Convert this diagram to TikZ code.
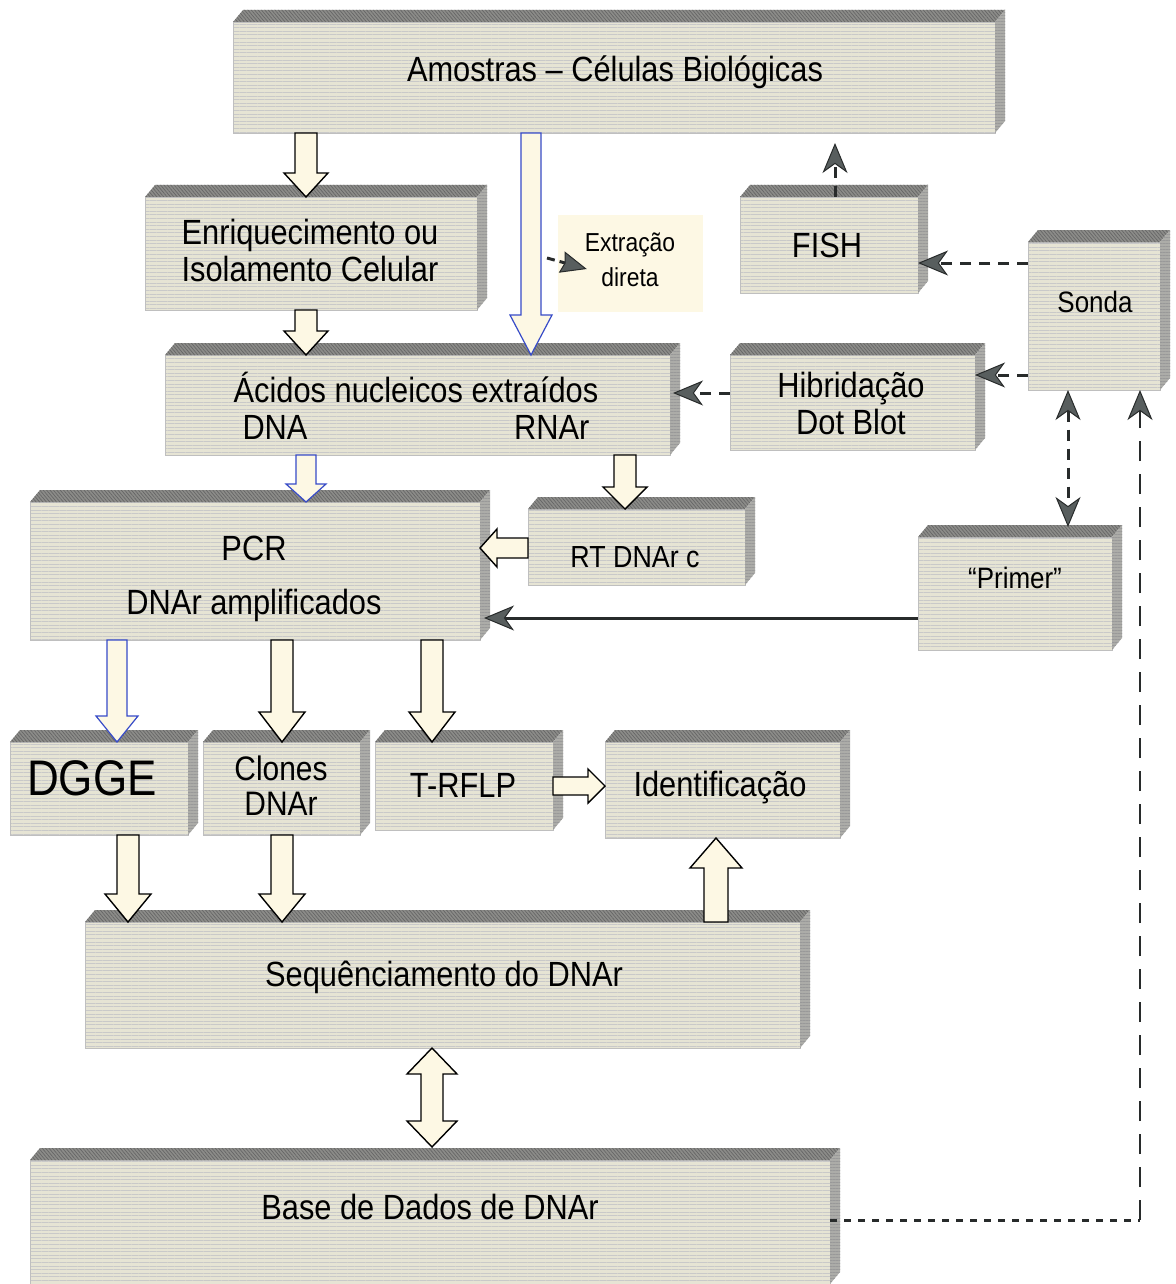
\documentclass[tikz,border=0pt]{standalone}
\usepackage{fontspec}
\setmainfont{Liberation Sans}[FakeStretch=0.88]
\usetikzlibrary{calc,arrows.meta,patterns.meta}

\definecolor{facefront}{RGB}{230,228,212}
\definecolor{facetop}{RGB}{140,140,137}
\definecolor{faceside}{RGB}{172,172,168}
\definecolor{cream}{RGB}{253,248,228}
\definecolor{arrowblue}{RGB}{55,75,200}
\definecolor{dashgray}{RGB}{40,43,43}
\definecolor{tipgray}{RGB}{88,94,94}

\tikzset{
  slab/.style={draw=gray!50, line width=0.5pt, outer sep=0pt, inner sep=0pt,
    preaction={fill=facefront},
    pattern={Lines[angle=0,distance=3.6pt,line width=0.6pt]}, pattern color=gray!42},
  slabtop/.style={preaction={fill=facetop},
    pattern={Lines[angle=-50,distance=2.6pt,line width=0.7pt]}, pattern color=black!60},
  slabside/.style={preaction={fill=faceside},
    pattern={Lines[angle=0,distance=3pt,line width=0.7pt]}, pattern color=black!40},
  txt/.style={font=\fontsize{35}{37}\selectfont, align=center, inner sep=0pt},
  smalltxt/.style={font=\fontsize{29.5}{32}\selectfont, align=center, inner sep=0pt},
  blk/.style={fill=cream, draw=black, line width=1.4pt, line join=miter},
  blkblue/.style={fill=cream, draw=arrowblue, line width=1.2pt, line join=miter},
  dart/.tip={Stealth[length=30pt, width=25pt, inset=9pt, fill=tipgray, line width=1pt]},
  dasharrow/.style={draw=dashgray, line width=3pt, dash pattern=on 11pt off 8pt, -dart},
}

% front face node plus top and right faces of a slab
\newcommand\slab[5]{%
  \node[slab, minimum width=#4pt, minimum height=#5pt] (#1) at (#2,#3) {};
  \path[slabtop] (#1.north west) -- ++(10,-12) -- ($(#1.north east)+(10,-12)$)
    -- (#1.north east) -- cycle;
  \path[slabside] (#1.north east) -- ++(10,-12) -- ($(#1.south east)+(10,-12)$)
    -- (#1.south east) -- cycle;}

% outlined block arrow: style, from, to, shaft half width, head half width, head length
\newcommand\blockarrow[6]{%
  \path[#1] let \p1=#2, \p2=#3,
      \n1={veclen(\x2-\x1,\y2-\y1)},
      \n2={(\x2-\x1)/\n1}, \n3={(\y2-\y1)/\n1},
      \p3=({\x2-#6*\n2},{\y2-#6*\n3}) in
    ({\x1-#4*\n3},{\y1+#4*\n2})
    -- ({\x3-#4*\n3},{\y3+#4*\n2})
    -- ({\x3-#5*\n3},{\y3+#5*\n2})
    -- (\p2)
    -- ({\x3+#5*\n3},{\y3-#5*\n2})
    -- ({\x3+#4*\n3},{\y3-#4*\n2})
    -- ({\x1+#4*\n3},{\y1-#4*\n2}) -- cycle;}

% block arrow with a head at both ends
\newcommand\dblockarrow[6]{%
  \path[#1] let \p1=#2, \p2=#3,
      \n1={veclen(\x2-\x1,\y2-\y1)},
      \n2={(\x2-\x1)/\n1}, \n3={(\y2-\y1)/\n1},
      \p3=({\x2-#6*\n2},{\y2-#6*\n3}),
      \p4=({\x1+#6*\n2},{\y1+#6*\n3}) in
    (\p1)
    -- ({\x4-#5*\n3},{\y4+#5*\n2})
    -- ({\x4-#4*\n3},{\y4+#4*\n2})
    -- ({\x3-#4*\n3},{\y3+#4*\n2})
    -- ({\x3-#5*\n3},{\y3+#5*\n2})
    -- (\p2)
    -- ({\x3+#5*\n3},{\y3-#5*\n2})
    -- ({\x3+#4*\n3},{\y3-#4*\n2})
    -- ({\x4+#4*\n3},{\y4-#4*\n2})
    -- ({\x4+#5*\n3},{\y4-#5*\n2}) -- cycle;}

\begin{document}
\begin{tikzpicture}[x=1pt, y=-1pt]
\useasboundingbox[fill=white] (0,0) rectangle (1175,1284);

% ---- slabs (front faces) ----
\slab{amostras}{614}{77.5}{762}{111}
\slab{enriq}{311}{253.5}{332}{113}
\slab{fish}{829}{245}{178}{96}
\slab{sonda}{1094}{316}{132}{148}
\slab{acidos}{417.5}{405}{505}{100}
\slab{hibrid}{852.5}{402.5}{245}{95}
\slab{pcr}{255}{571}{450}{138}
\slab{rt}{636.5}{547}{217}{76}
\slab{primer}{1015}{593.5}{194}{113}
\slab{dgge}{99}{788.5}{178}{93}
\slab{clones}{281.5}{788.5}{157}{93}
\slab{trflp}{464}{786}{178}{88}
\slab{ident}{722.5}{790}{235}{96}
\slab{seq}{442.5}{985}{715}{126}
\slab{base}{430}{1222}{800}{124}

% plain label field
\node[fill=cream, minimum width=145pt, minimum height=97pt, inner sep=0pt] (extr) at (630.5,263.5) {};

% ---- texts ----
\node[txt] (amostras-t) at (615,72) {Amostras -- Células Biológicas};
\node[txt] (enriq-t) at (310,250) {Enriquecimento ou\\Isolamento Celular};
\node[font=\fontsize{26}{35}\selectfont, align=center, inner sep=0pt] (extr-t) at (630,260) {Extração\\direta};
\node[txt] (fish-t) at (827,245) {FISH};
\node[smalltxt] (sonda-t) at (1095,302) {Sonda};
\node[txt] (acidos-t) at (416,405.5) {Ácidos nucleicos extraídos\\\makebox[347pt]{DNA\hfill RNAr}};
\node[txt] (hibrid-t) at (851,403) {Hibridação\\Dot Blot};
\node[txt] (pcr-t) at (254,579) {PCR\\[17pt]DNAr amplificados};
\node[font=\fontsize{30.5}{32}\selectfont, inner sep=0pt] (rt-t) at (635,557) {RT DNAr c};
\node[smalltxt] (primer-t) at (1015,578) {“Primer”};
\node[font=\fontsize{50}{52}\selectfont, inner sep=0pt] (dgge-t) at (92,778) {DGGE};
\node[txt, font=\fontsize{34}{35}\selectfont] (clones-t) at (281,785.5) {Clones\\DNAr};
\node[txt] (trflp-t) at (463,785) {T-RFLP};
\node[txt] (ident-t) at (720,788) {Identificação};
\node[txt] (seq-t) at (444,977) {Sequênciamento do DNAr};
\node[txt] (base-t) at (430,1207) {Base de Dados de DNAr};

% ---- lanes for the block arrows ----
\coordinate (lnA) at (306,0);
\coordinate (lnB) at (531,0);
\coordinate (lnC) at (625,0);
\coordinate (lnD) at (117,0);
\coordinate (lnE) at (282,0);
\coordinate (lnF) at (432,0);
\coordinate (lnG) at (128,0);
\coordinate (lnH) at (716,0);
\coordinate (lnI) at (0,548);
\coordinate (lnJ) at (0,786);
\coordinate (basetop) at ($(base.north)+(0,-13)$);

% ---- block arrows ----
\blockarrow{blk}{(amostras.south -| lnA)}{(enriq.north -| lnA)}{11}{22}{24}
\blockarrow{blk}{(enriq.south -| lnA)}{(acidos.north -| lnA)}{11}{22}{24}
\blockarrow{blkblue}{(amostras.south -| lnB)}{(acidos.north -| lnB)}{10}{21}{40}
\blockarrow{blkblue}{(acidos.south -| lnA)}{(pcr.north -| lnA)}{10}{20}{18}
\blockarrow{blk}{(acidos.south -| lnC)}{(rt.north -| lnC)}{11}{22}{22}
\blockarrow{blk}{(rt.west |- lnI)}{(pcr.east |- lnI)}{10}{19}{17}
\blockarrow{blkblue}{(pcr.south -| lnD)}{(dgge.north -| lnD)}{10}{21}{26}
\blockarrow{blk}{(pcr.south -| lnE)}{(clones.north -| lnE)}{11}{23}{30}
\blockarrow{blk}{(pcr.south -| lnF)}{(trflp.north -| lnF)}{11}{23}{30}
\blockarrow{blk}{(trflp.east |- lnJ)}{(ident.west |- lnJ)}{9}{17}{17}
\blockarrow{blk}{(dgge.south -| lnG)}{(seq.north -| lnG)}{11}{23}{28}
\blockarrow{blk}{(clones.south -| lnE)}{(seq.north -| lnE)}{11}{23}{28}
\blockarrow{blk}{(seq.north -| lnH)}{(ident.south -| lnH)}{12}{26}{30}
\dblockarrow{blk}{(seq.south -| lnF)}{(basetop -| lnF)}{11}{25}{26}

% ---- dashed connectors ----
\coordinate (extfrom) at (547,258);
\draw[draw=dashgray, line width=3pt, dash pattern=on 8pt off 5pt,
  -{Stealth[length=26pt, width=22pt, inset=3pt, fill=tipgray, line width=1pt]}]
  (extfrom) -- ($(extr.west)+(29,5.5)$);
\draw[dasharrow, shorten >=10pt] ([xshift=6pt]fish.north) -- ([xshift=6pt]fish.north |- amostras.south);
\draw[dasharrow] ([yshift=53pt]sonda.west) -- ([yshift=53pt]sonda.west -| fish.east);
\draw[dasharrow] ([yshift=-59pt]sonda.west) -- ([yshift=-59pt]sonda.west -| hibrid.east);
\draw[dasharrow, shorten >=3pt] ([yshift=9.5pt]hibrid.west) -- ([yshift=9.5pt]hibrid.west -| acidos.east);
\coordinate (lnK) at (1068,0);
\draw[dasharrow, dart-dart] (sonda.south -| lnK) -- ([yshift=10pt]primer.north -| lnK);

% database link back to the probe
\coordinate (bcorner) at (1140,1220);
\draw[draw=dashgray, line width=3pt, dash pattern=on 7pt off 7pt] (base.east |- bcorner) -- (bcorner);
\draw[draw=dashgray, line width=2.8pt, dash pattern=on 20pt off 13pt, -dart] (bcorner) -- (sonda.south -| bcorner);

% primer feeding the PCR
\draw[draw=dashgray, line width=3pt, -dart, shorten >=4pt] ([yshift=-24.5pt]primer.west) -- ([yshift=-24.5pt]primer.west -| pcr.east);
\end{tikzpicture}
\end{document}
